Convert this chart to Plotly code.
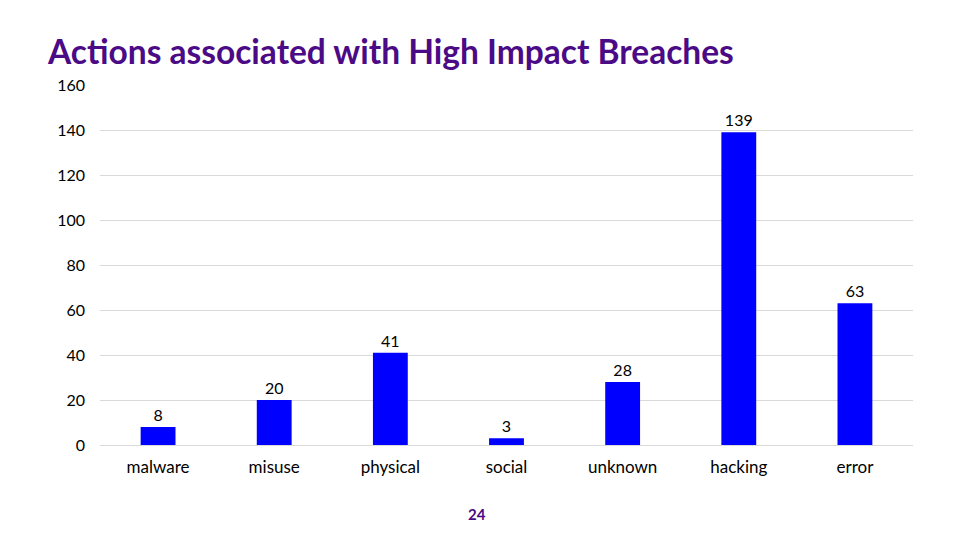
import plotly.graph_objects as go

# chart data
actions = ["malware", "misuse", "physical", "social", "unknown", "hacking", "error"]
breaches = [8, 20, 41, 3, 28, 139, 63]
y_ticks = [0, 20, 40, 60, 80, 100, 120, 140, 160]

FONT = "Lato, Open Sans, sans-serif"
PURPLE = "#4B0A86"

fig = go.Figure()
fig.add_trace(go.Bar(
    x=actions,
    y=breaches,
    marker=dict(color="#0000FF", line=dict(width=0)),
    text=breaches,
    textposition="outside",
    textfont=dict(family=FONT, size=16, color="#000000"),
    cliponaxis=False,
))

# page body adds ~8px offset, so margins are shifted to compensate
fig.update_layout(
    width=960,
    height=540,
    paper_bgcolor="white",
    plot_bgcolor="white",
    margin=dict(l=92, r=55, t=77, b=103),
    bargap=0.7,
    showlegend=False,
    font=dict(family=FONT, size=17, color="#000000"),
    title=dict(
        text="<b>Actions associated with High Impact Breaches</b>",
        font=dict(family=FONT, size=33.5, color=PURPLE),
        x=40 / 960, xanchor="left",
        y=1 - 44 / 540, yanchor="middle",
    ),
)

fig.update_yaxes(
    range=[0, 160],
    tickvals=y_ticks,
    showgrid=True,
    gridcolor="#D9D9D9",
    gridwidth=1,
    zeroline=False,
    showline=False,
    ticklabelstandoff=14,
    tickfont=dict(family=FONT, size=16, color="#000000"),
)
fig.update_xaxes(
    showline=True,
    linecolor="#D9D9D9",
    linewidth=1,
    ticklabelstandoff=7,
    tickfont=dict(family=FONT, size=17, color="#000000"),
)

# slide number
fig.add_annotation(
    text="<b>24</b>",
    x=(469 - 92) / 813, y=(437 - 517) / 360,
    xref="paper", yref="paper",
    showarrow=False,
    font=dict(family=FONT, size=15, color=PURPLE),
)

fig.write_html("out.html")
